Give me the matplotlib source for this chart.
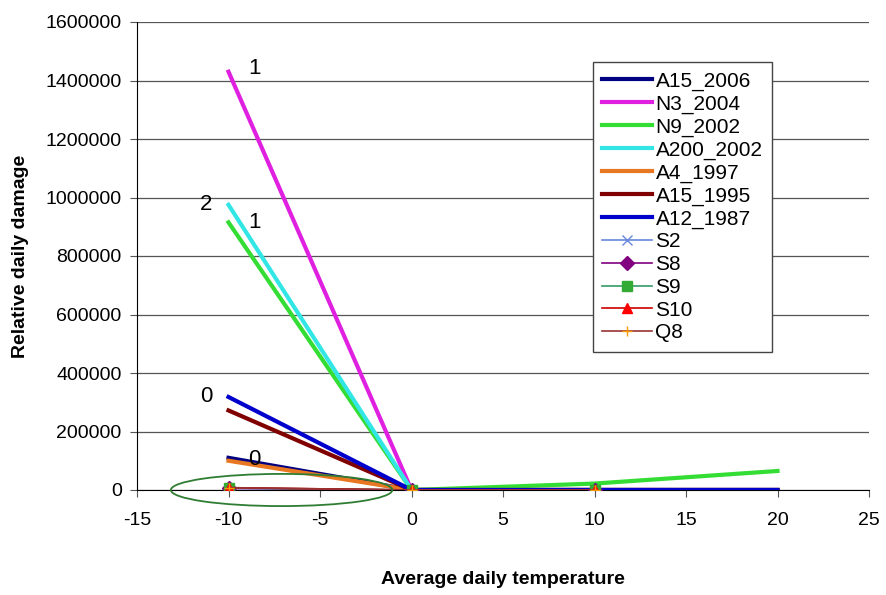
import matplotlib
matplotlib.use('Agg')
import matplotlib.pyplot as plt
from matplotlib.patches import Ellipse
from matplotlib.ticker import StrMethodFormatter

plt.rcParams['font.family'] = ['Liberation Sans', 'DejaVu Sans']
plt.rcParams['axes.unicode_minus'] = False

temps = [-10, 0, 10, 20]

# thick lines (design curves)
A15_2006 = [110000, 0, 0, 0]
N3_2004 = [1430000, 0, 0, 0]
N9_2002 = [915000, 0, 22000, 65000]
A200_2002 = [975000, 0, 0, 0]
A4_1997 = [100000, 0, 0, 0]
A15_1995 = [272000, 0, 0, 0]
A12_1987 = [318000, 0, 0, 0]

# measured series
s_temps = [-10, 0, 10]
S2 = [5000, 0, 0]
S8 = [6000, 0, 0]
S9 = [7000, 0, 0]
S10 = [8000, 0, 0]
Q8 = [8000, 0, 0]

fig = plt.figure(figsize=(8.87, 5.95), dpi=100)
ax = fig.add_axes([137/887, 1-490/595, 732/887, 468/595])

thick = [('A15_2006', A15_2006, '#000080'),
         ('N3_2004', N3_2004, '#E020E0'),
         ('N9_2002', N9_2002, '#33DD33'),
         ('A200_2002', A200_2002, '#33E6E6'),
         ('A4_1997', A4_1997, '#E87722'),
         ('A15_1995', A15_1995, '#800000'),
         ('A12_1987', A12_1987, '#0000CC')]
for name, vals, col in thick:
    ax.plot(temps, vals, color=col, lw=3, label=name, zorder=3)

thin = [('S2', S2, '#6688DD', 'x', '#6688DD'),
        ('S8', S8, '#800080', 'D', '#800080'),
        ('S9', S9, '#339966', 's', '#33AA33'),
        ('S10', S10, '#CC0000', '^', '#FF0000'),
        ('Q8', Q8, '#993333', '+', '#FF9900')]
for name, vals, col, mk, mcol in thin:
    ax.plot(s_temps, vals, color=col, lw=1.2, marker=mk, markersize=7,
            markerfacecolor=mcol, markeredgecolor=mcol, label=name, zorder=4)

# curve labels
ax.text(-8.6, 1440000, '1', fontsize=16, ha='center', va='center')
ax.text(-11.2, 975000, '2', fontsize=16, ha='center', va='center')
ax.text(-8.6, 915000, '1', fontsize=16, ha='center', va='center')
ax.text(-11.2, 318000, '0', fontsize=16, ha='center', va='center')
ax.text(-8.6, 105000, '0', fontsize=16, ha='center', va='center')

ell = Ellipse((-7.1, 0), 12.1, 110000, fill=False, edgecolor='#2E7D32', lw=1.3, zorder=5)
ell.set_clip_on(False)
ax.add_patch(ell)

ax.set_xlim(-15, 25)
ax.set_ylim(0, 1600000)
ax.set_xticks(range(-15, 26, 5))
ax.set_yticks(range(0, 1600001, 200000))
ax.yaxis.set_major_formatter(StrMethodFormatter('{x:.0f}'))
ax.yaxis.grid(True, color='#555555', lw=0.9)
ax.set_axisbelow(True)
for s in ['top', 'right']:
    ax.spines[s].set_visible(False)
ax.tick_params(axis='both', labelsize=14, direction='out', length=5, color='#555555')
ax.tick_params(axis='x', pad=11)
ax.tick_params(axis='y', pad=6)

ax.set_xlabel('Average daily temperature', fontsize=14, fontweight='bold', labelpad=30)
ax.set_ylabel('Relative daily damage', fontsize=14, fontweight='bold', labelpad=12)

leg = ax.legend(loc='upper left', bbox_to_anchor=(456/732, 1-40/468), fontsize=15,
                frameon=True, fancybox=False, edgecolor='#444444', framealpha=1,
                handlelength=2.4, handletextpad=0.15, labelspacing=0.18, borderpad=0.45,
                borderaxespad=0)
leg.get_frame().set_linewidth(1.0)

fig.savefig('out.png', dpi=100)
